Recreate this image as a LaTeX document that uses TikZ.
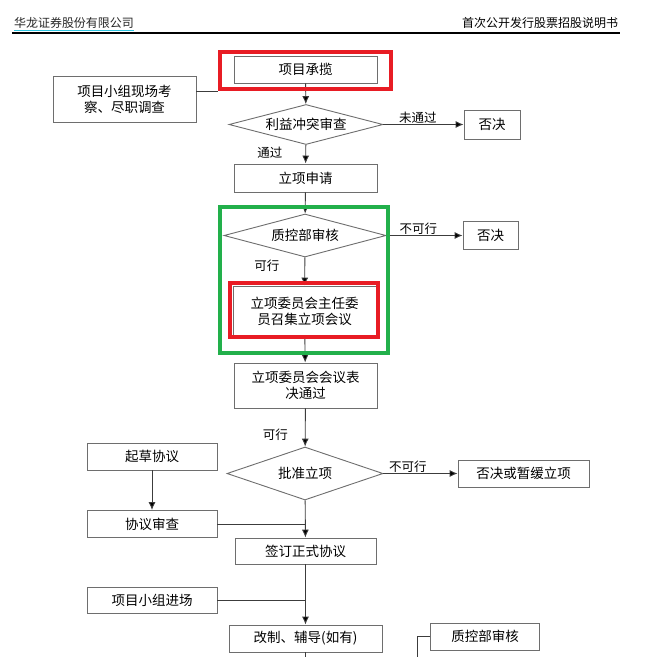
\documentclass[tikz,border=0pt]{standalone}
\usepackage{fontspec}
\setmainfont{Noto Sans CJK SC}
\usetikzlibrary{arrows, arrows.meta, shapes.geometric, calc, positioning}
\definecolor{lineGray}{HTML}{3C3C3C}
\definecolor{boxGray}{HTML}{6E6E6E}
\definecolor{markRed}{HTML}{E81C24}
\definecolor{markGreen}{HTML}{22B04B}
\definecolor{linkCyan}{HTML}{2EC4E0}
\tikzset{
    stepBox/.style={rectangle, draw=boxGray, line width=0.9pt, fill=white, inner sep=1pt, align=center, font=\fontsize{13.5}{16}\selectfont},
    mainBox/.style={stepBox, minimum width=143pt, minimum height=27pt},
    sideBox/.style={stepBox, minimum width=130pt, minimum height=27pt},
    checkBox/.style={diamond, draw=boxGray, line width=0.9pt, fill=white, inner sep=0pt, font=\fontsize{13.5}{16}\selectfont},
    flowEdge/.style={-{Latex[length=8pt, width=7pt, fill=black]}, draw=lineGray, line width=0.9pt},
    flowJoin/.style={draw=lineGray, line width=0.9pt},
    markBox/.style={rectangle, draw=#1, line width=4pt, inner sep=0pt},
    edgeLabel/.style={font=\fontsize{12.5}{14}\selectfont, inner sep=1pt},
}
\newcommand{\drawYes}[4][left=22pt]{
    \draw[flowEdge] (#2) -- node[edgeLabel, #1] {#4} (#3);
}
\newcommand{\drawNo}[4][pos=0.45]{
    \draw[flowEdge] (#2.east) -- node[edgeLabel, above, #1] {#4} (#3.west);
}
\newcommand{\drawJoin}[2]{
    \draw[flowJoin] (#1) -- (#1 -| #2);
}

\begin{document}
\begin{tikzpicture}[x=1pt, y=-1pt]
        \useasboundingbox (0,0) rectangle (648,657);

        % 页眉
        \node[font=\fontsize{12}{14}\selectfont, inner sep=0pt, text=black!85] (hdrL) at (74,23) {华龙证券股份有限公司};
        \node[font=\fontsize{12}{14}\selectfont, inner sep=0pt] (hdrR) at (540,23) {首次公开发行股票招股说明书};
        \draw[linkCyan, line width=1pt] ($(hdrL.south west)+(0,1.5)$) -- ($(hdrL.south east)+(0,1.5)$);
        \draw[black, line width=1.1pt] (12,33) -- (620,33);

        % 主流程
        \node[mainBox] (cheng) at (305.5,69.5) {项目承揽};
        \node[stepBox, minimum width=143pt, minimum height=46pt] (kaocha) at (124.5,99) {项目小组现场考\\察、尽职调查};
        \node[checkBox, aspect=3.85, minimum width=154pt, minimum height=40pt] (chongtu) at (306,124.5) {利益冲突审查};
        \node[stepBox, minimum width=56pt, minimum height=29pt] (foujueA) at (492,124.5) {否决};
        \node[mainBox, minimum height=28pt] (shenqing) at (305.5,178) {立项申请};
        \node[checkBox, aspect=3.77, minimum width=162pt, minimum height=43pt] (zhikong) at (305,235.5) {质控部审核};
        \node[stepBox, minimum width=55pt, minimum height=28pt] (foujueB) at (490.5,235.5) {否决};
        \node[stepBox, minimum width=143pt, minimum height=50pt] (zhaoji) at (304.5,311) {立项委员会主任委\\员召集立项会议};
        \node[stepBox, minimum width=143pt, minimum height=45pt] (biaojue) at (305.5,385.5) {立项委员会会议表\\决通过};
        \node[checkBox, aspect=2.94, minimum width=156pt, minimum height=53pt] (pizhun) at (305,473.5) {批准立项};
        \node[stepBox, minimum width=131pt, minimum height=27pt] (foujueC) at (523.5,473.5) {否决或暂缓立项};
        \node[sideBox] (qicao) at (152,456.5) {起草协议};
        \node[sideBox] (shencha) at (152,524) {协议审查};
        \node[stepBox, minimum width=141pt, minimum height=26pt] (qianding) at (305.5,551) {签订正式协议};
        \node[sideBox, minimum height=26pt] (jinchang) at (152,600) {项目小组进场};
        \node[stepBox, minimum width=153pt, minimum height=27pt] (gaizhi) at (305.5,638.5) {改制、辅导(如有)};
        \node[stepBox, minimum width=109pt, minimum height=27pt] (zhikongB) at (485,636.5) {质控部审核};

        \coordinate (kaochaOut) at (kaocha.east |- 0,91);
        \coordinate (gaizhiOut) at (305.5,657);
        \coordinate (zhikongOut) at (417,657);
        \coordinate (markAWest) at (218,91);

        \draw[flowJoin] (kaochaOut) -- (markAWest);
        \draw[flowEdge] (cheng) -- (chongtu);
        \drawYes[left=22pt, pos=0.4]{chongtu}{shenqing}{通过}
        \drawNo[pos=0.43]{chongtu}{foujueA}{未通过}
        \draw[flowEdge] (shenqing) -- (zhikong);
        \drawYes[left=24pt, pos=0.3]{zhikong}{zhaoji}{可行}
        \drawNo[pos=0.42]{zhikong}{foujueB}{不可行}
        \draw[flowEdge] (zhaoji) -- (biaojue);
        \drawYes[left=16pt, pos=0.68]{biaojue}{pizhun}{可行}
        \drawNo[pos=0.33]{pizhun}{foujueC}{不可行}
        \draw[flowEdge] (pizhun) -- (qianding);
        \draw[flowEdge] (qicao) -- (shencha);
        \drawJoin{shencha.east}{pizhun}
        \draw[flowEdge] (qianding) -- (gaizhi);
        \drawJoin{jinchang.east}{qianding}
        \draw[flowJoin] (gaizhi) -- (gaizhiOut);
        \draw[flowJoin] (zhikongB.west) -- (zhikongB.west -| zhikongOut) -- (zhikongOut);

        % 标注框
        \node[markBox=markRed, minimum width=171pt, minimum height=37pt] (markA) at (305.5,70.5) {};
        \node[markBox=markGreen, minimum width=168pt, minimum height=146pt] (markB) at (304,280) {};
        \node[markBox=markRed, minimum width=148pt, minimum height=54pt] (markC) at (304,310) {};

    \end{tikzpicture}
\end{document}
